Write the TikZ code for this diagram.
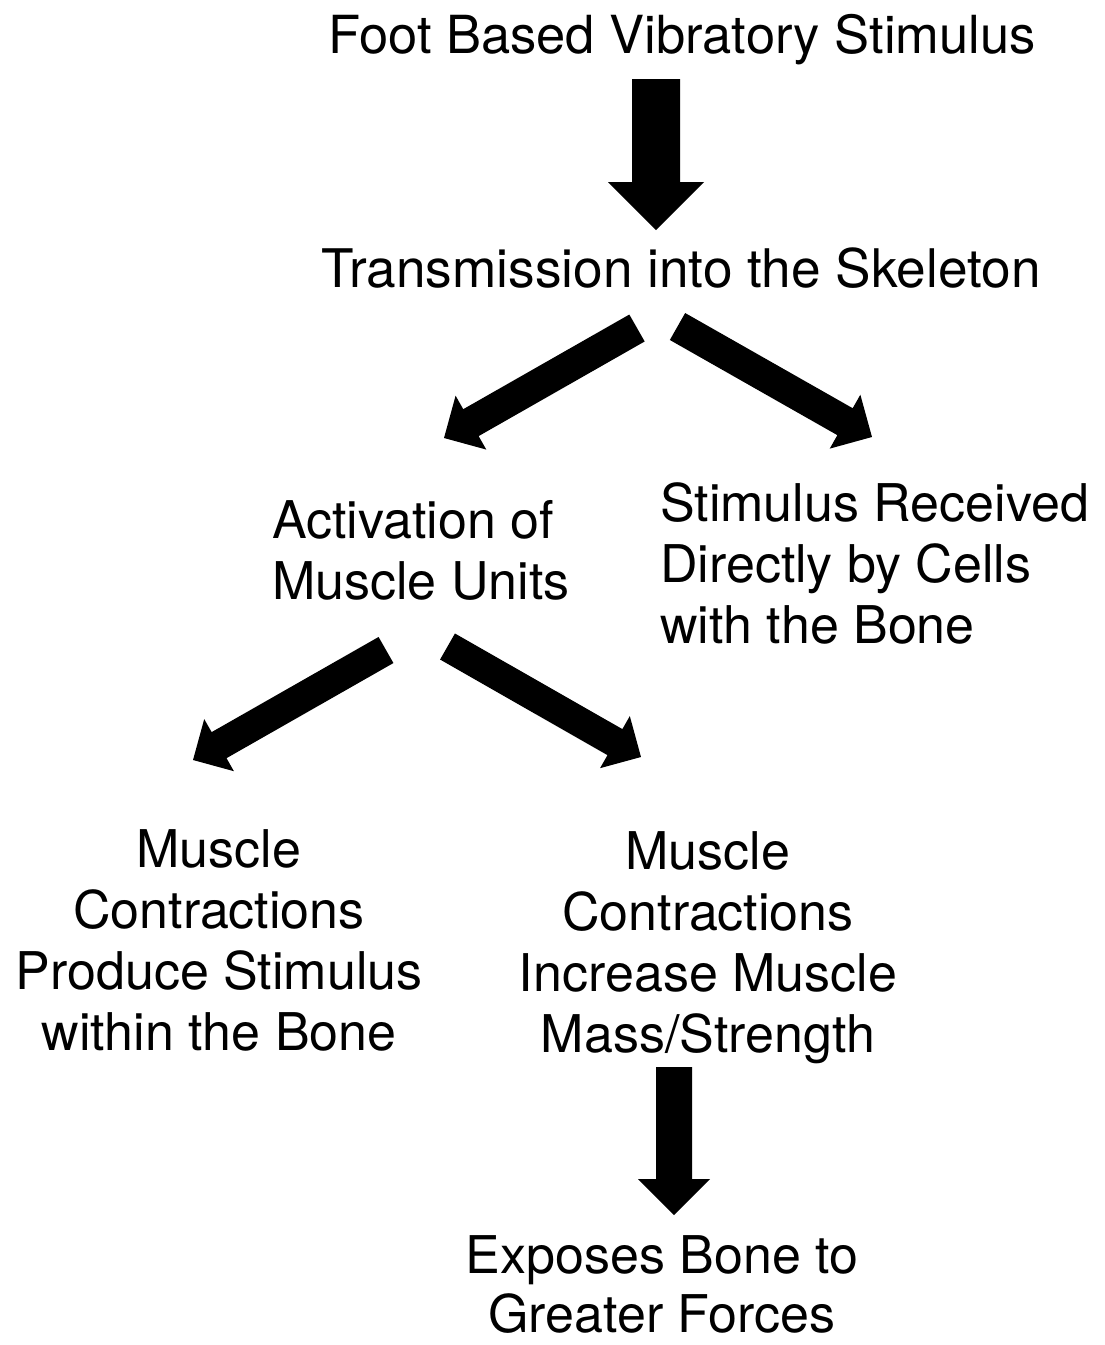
\documentclass[tikz,border=0pt]{standalone}
\usepackage{fontspec}
\setmainfont{TeX Gyre Heros}
\usetikzlibrary{calc}
\newcommand\blockarrow[3]{% tail, tip, shaft width
  \fill[arrowfill] let \p1=($(#2)-(#1)$), \n1={atan2(\y1,\x1)}, \n2={veclen(\x1,\y1)}, \n3={\n2-#3} in
  [shift={(#1)}, rotate=\n1]
  (0,-#3/2) -- (\n3,-#3/2) -- (\n3,-#3) -- (\n2,0) -- (\n3,#3) -- (\n3,#3/2) -- (0,#3/2) -- cycle;}
\begin{document}
\begin{tikzpicture}[x=1pt,y=-1pt,
  txt/.style={inner sep=0pt, font=\fontsize{52}{61}\selectfont},
  arrowfill/.style={fill=black}]
\path[use as bounding box, fill=white] (0,0) rectangle (1105,1345);
% text nodes (multi-line nodes: base = baseline of last line)
\node[txt, anchor=base, font=\fontsize{52.5}{61}\selectfont] (foot) at (682,53) {Foot Based Vibratory Stimulus};
\node[txt, anchor=base, font=\fontsize{53.2}{61}\selectfont] (trans) at (681,287) {Transmission into the Skeleton};
\node[txt, anchor=base west, align=left] (act) at (272,599) {Activation of\\Muscle Units};
\node[txt, anchor=base west, align=left] (recv) at (660,643) {Stimulus Received\\Directly by Cells\\with the Bone};
\node[txt, anchor=base, align=center] (mcl) at (219,1050) {Muscle\\Contractions\\Produce Stimulus\\within the Bone};
\node[txt, anchor=base, align=center] (mcr) at (708,1052) {Muscle\\Contractions\\Increase Muscle\\Mass/Strength};
\node[txt, anchor=base, align=center, font=\fontsize{52}{59}\selectfont] (expo) at (662,1332) {Exposes Bone to\\Greater Forces};
% arrow ends
\coordinate (a1s) at (656,79);    \coordinate (a1e) at (656,230);
\coordinate (a2s) at (637,328);   \coordinate (a2e) at (444,438);
\coordinate (a3s) at (677.5,326.5); \coordinate (a3e) at (872,437);
\coordinate (a4s) at (386,650);   \coordinate (a4e) at (193,760);
\coordinate (a5s) at (447.5,646.5); \coordinate (a5e) at (641,757);
\coordinate (a6s) at (674,1067);  \coordinate (a6e) at (674,1215);
\blockarrow{a1s}{a1e}{48}
\blockarrow{a2s}{a2e}{31}
\blockarrow{a3s}{a3e}{31}
\blockarrow{a4s}{a4e}{30}
\blockarrow{a5s}{a5e}{30}
\blockarrow{a6s}{a6e}{36}
\end{tikzpicture}
\end{document}
